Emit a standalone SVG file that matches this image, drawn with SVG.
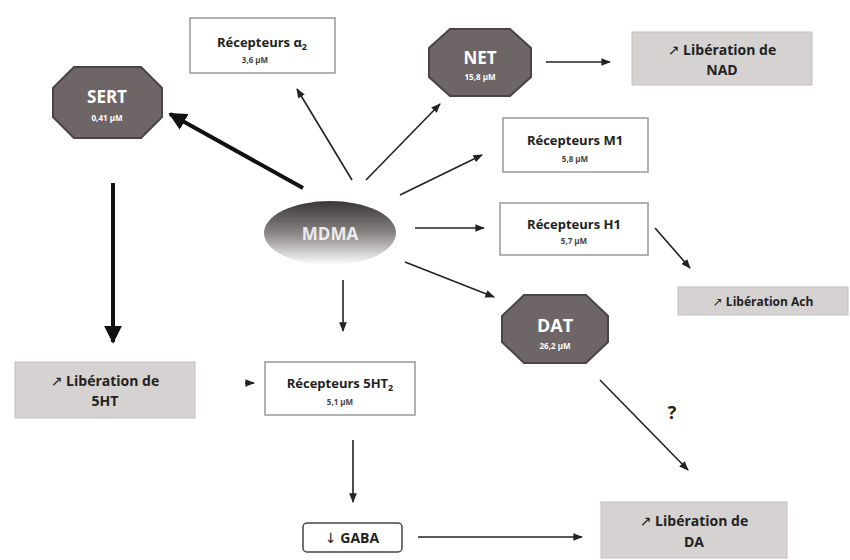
<svg xmlns="http://www.w3.org/2000/svg" width="850" height="560" viewBox="0 0 850 560">
<defs>
<style>
.oct{fill:#6e6666;stroke:#4a4444;stroke-width:2}
.ot{fill:#fff;font-family:"Open Sans","Liberation Sans",sans-serif;font-weight:bold;text-anchor:middle}
.rb{fill:#fff;stroke:#999;stroke-width:1.5}
.gb{fill:#d6d2d2;stroke:#c4c0c0;stroke-width:1}
.t{fill:#222;font-family:"Open Sans","Liberation Sans",sans-serif;font-weight:bold;text-anchor:middle}
.ar{font-family:"DejaVu Sans",sans-serif;font-weight:normal;fill:#222}
.s{fill:#444;font-family:"Open Sans","Liberation Sans",sans-serif;font-size:8px;font-weight:bold;text-anchor:middle}
.a{stroke:#222;stroke-width:1.6;fill:none;marker-end:url(#ah)}
.ak{stroke:#111;stroke-width:4;fill:none;marker-end:url(#ahk)}
</style>
<marker id="ah" viewBox="0 0 10 10" refX="9" refY="5" markerWidth="6" markerHeight="6" orient="auto" markerUnits="strokeWidth"><path d="M0,1 L10,5 L0,9 Z" fill="#222"/></marker>
<marker id="ahk" viewBox="0 0 10 10" refX="9" refY="5" markerWidth="4.5" markerHeight="4.5" orient="auto" markerUnits="strokeWidth"><path d="M0,0 L10,5 L0,10 Z" fill="#111"/></marker>
<linearGradient id="mg" x1="0" y1="0" x2="0" y2="1">
<stop offset="0" stop-color="#3a3636"/><stop offset="0.5" stop-color="#8a8484"/><stop offset="1" stop-color="#ffffff"/>
</linearGradient>
</defs>
<rect width="850" height="560" fill="#fff"/>
<g id="connectors">
<line class="ak" x1="303" y1="188" x2="170" y2="114"/>
<line class="ak" x1="113" y1="183" x2="113" y2="342"/>
<line class="a" x1="352" y1="180" x2="297" y2="89"/>
<line class="a" x1="366" y1="180" x2="440" y2="104"/>
<line class="a" x1="546" y1="62" x2="610" y2="62"/>
<line class="a" x1="400" y1="195" x2="482" y2="155"/>
<line class="a" x1="415" y1="228" x2="484" y2="228"/>
<line class="a" x1="655" y1="228" x2="690" y2="268"/>
<line class="a" x1="405" y1="262" x2="494" y2="297"/>
<line class="a" x1="343" y1="280" x2="343" y2="331"/>
<line class="a" x1="245" y1="383" x2="254" y2="383"/>
<line class="a" x1="353" y1="440" x2="353" y2="502"/>
<line class="a" x1="418" y1="537" x2="582" y2="537"/>
<line class="a" x1="600" y1="380" x2="688" y2="470"/>
</g>
<g id="sert">
<polygon class="oct" points="74,67 141,67 162,88 162,117 141,138 74,138 53,117 53,88"/>
<text class="ot" x="107" y="103" font-size="17">SERT</text>
<text class="ot" x="107" y="121" font-size="8">0,41 µM</text>
</g>
<g id="alpha2">
<rect class="rb" x="190" y="18" width="145" height="55"/>
<text class="t" x="262" y="47" font-size="13">Récepteurs α<tspan font-size="9" dy="3">2</tspan></text>
<text class="s" x="255" y="63">3,6 µM</text>
</g>
<g id="net">
<polygon class="oct" points="450,29 510,29 531,48 531,77 510,96 450,96 429,77 429,48"/>
<text class="ot" x="480" y="64" font-size="17">NET</text>
<text class="ot" x="480" y="80" font-size="8">15,8 µM</text>
</g>
<g id="nad">
<rect class="gb" x="632" y="32" width="180" height="53"/>
<text class="t" x="722" y="55" font-size="14"><tspan class="ar">↗</tspan> Libération de</text>
<text class="t" x="722" y="75" font-size="14">NAD</text>
</g>
<g id="m1">
<rect class="rb" x="503" y="118" width="145" height="54"/>
<text class="t" x="575" y="145" font-size="13">Récepteurs M1</text>
<text class="s" x="575" y="162">5,8 µM</text>
</g>
<g id="mdma">
<ellipse cx="330" cy="233" rx="66" ry="32" fill="url(#mg)"/>
<text class="ot" x="330" y="240" font-size="17" fill-opacity="0.85">MDMA</text>
</g>
<g id="h1">
<rect class="rb" x="500" y="203" width="148" height="52"/>
<text class="t" x="574" y="229" font-size="13">Récepteurs H1</text>
<text class="s" x="574" y="244">5,7 µM</text>
</g>
<g id="ach">
<rect class="gb" x="678" y="287" width="170" height="28"/>
<text class="t" x="763" y="306" font-size="12"><tspan class="ar">↗</tspan> Libération Ach</text>
</g>
<g id="dat">
<polygon class="oct" points="524,295 586,295 608,316 608,342 586,363 524,363 502,342 502,316"/>
<text class="ot" x="555" y="332" font-size="18">DAT</text>
<text class="ot" x="555" y="349" font-size="8">26,2 µM</text>
</g>
<g id="lib5ht">
<rect class="gb" x="15" y="362" width="180" height="56"/>
<text class="t" x="105" y="386" font-size="14"><tspan class="ar">↗</tspan> Libération de</text>
<text class="t" x="105" y="406" font-size="14">5HT</text>
</g>
<g id="r5ht2">
<rect class="rb" x="265" y="362" width="150" height="53"/>
<text class="t" x="340" y="388" font-size="13">Récepteurs 5HT<tspan font-size="9" dy="3">2</tspan></text>
<text class="s" x="340" y="405">5,1 µM</text>
</g>
<text class="t" x="672" y="419" font-size="18">?</text>
<g id="gaba">
<rect x="303" y="523" width="99" height="29" rx="4" fill="#fff" stroke="#444" stroke-width="1.5"/>
<text class="t" x="352" y="543" font-size="14"><tspan class="ar">↓</tspan> GABA</text>
</g>
<g id="libda">
<rect class="gb" x="601" y="502" width="186" height="56"/>
<text class="t" x="694" y="526" font-size="14"><tspan class="ar">↗</tspan> Libération de</text>
<text class="t" x="694" y="547" font-size="14">DA</text>
</g>
</svg>
